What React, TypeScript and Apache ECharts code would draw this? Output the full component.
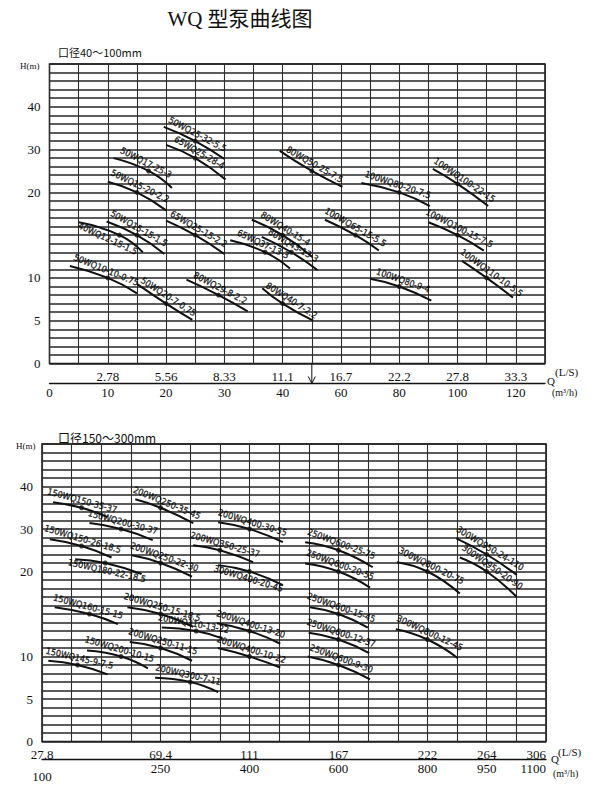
import React, { useEffect, useRef } from 'react';
import * as echarts from 'echarts';

const TITLE = 'WQ 型泵曲线图';
const SUB_TOP = '口径40～100mm';
const SUB_BOTTOM = '口径150～300mm';

// head ticks (m), same on both panels
const H_TICKS = [0, 5, 10, 20, 30, 40];

// upper panel flow ticks
const TOP_Q_M3H = [0, 10, 20, 30, 40, 60, 80, 100, 120];
const TOP_Q_LS = ['', '2.78', '5.56', '8.33', '11.1', '16.7', '22.2', '27.8', '33.3'];
const TOP_MARK_Q = 50; // scale change marker

// lower panel flow ticks and their grid columns
const BOT_Q_M3H = [100, 250, 400, 600, 800, 950, 1100];
const BOT_Q_LS = ['27.8', '69.4', '111', '167', '222', '264', '306'];
const BOT_Q_COLS = [0, 4, 7, 10, 13, 15, 17];

// pump models 40~100mm: [Q m3/h, H m] at the start and end of each curve
const TOP_MODELS = [
  '50WQ25-32-5.5', '65WQ25-28-4', '50WQ17-25-3', '50WQ15-20-2.2', '80WQ50-25-7.5',
  '100WQ80-20-7.5', '100WQ100-22-15', '50WQ15-15-1.5', '40WQ12-15-1.5', '65WQ25-15-2.2',
  '80WQ40-15-4', '80WQ43-13-3', '65WQ37-13-3', '100WQ65-15-5.5', '100WQ100-15-7.5',
  '100WQ110-10-5.5', '100WQ80-9-4', '50WQ10-10-0.75', '50WQ20-7-0.75', '80WQ29-8-2.2',
  '80WQ40-7-2.2',
];
const TOP_START = [
  [19.6, 35.3], [20, 31.1], [11, 28], [10, 22.5], [39.5, 29.7],
  [67, 22.2], [91.5, 25.5], [9.8, 16.6], [5, 16.5], [20, 16.7],
  [34.7, 16.8], [36.4, 14.8], [31, 14.4], [54.5, 16.8], [90, 16.5],
  [101.5, 12], [70, 9.9], [3.5, 11.4], [15, 9.3], [23.5, 9.8],
  [36.5, 8.8],
];
const TOP_END = [
  [30, 27.8], [30.2, 23], [21, 21], [20, 17.9], [60.5, 21.3],
  [90.5, 18.4], [110.5, 18.4], [19.7, 12.8], [16, 13], [30, 12.8],
  [50, 12.5], [52, 10.9], [42.5, 11.1], [73, 13.2], [109, 13.2],
  [119, 7.7], [91, 7.35], [15, 8.2], [24.5, 5.1], [34, 6.1],
  [50.5, 5],
];
const TOP_BELOW = ['40WQ12-15-1.5'];

// pump models 150~300mm
const BOT_MODELS = [
  '150WQ150-35-37', '200WQ250-35-45', '200WQ400-30-55', '150WQ200-30-37', '150WQ150-26-18.5',
  '200WQ350-25-37', '200WQ250-22-30', '150WQ180-22-18.5', '300WQ400-20-45', '250WQ600-25-75',
  '250WQ600-20-55', '300WQ800-20-75', '300WQ950-24-110', '300WQ950-20-90', '150WQ160-15-15',
  '200WQ250-15-18.5', '200WQ310-13-22', '200WQ400-13-20', '200WQ250-11-15', '200WQ400-10-22',
  '150WQ200-10-15', '150WQ145-9-7.5', '200WQ300-7-11', '250WQ600-15-45', '250WQ600-12-37',
  '250WQ600-9-30', '300WQ800-12-45',
];
const BOT_START = [
  [114, 36.3], [218, 37], [347, 31.6], [160, 31.4], [110, 27.6],
  [305, 26.2], [214, 23.8], [142, 22.9], [347, 21.5], [525, 26.9],
  [525, 21.9], [731, 22.2], [873, 27.8], [882, 23.3], [116, 15.8],
  [208, 15.8], [252, 13.4], [345, 13.9], [211, 11.7], [347, 11],
  [157, 10.7], [108, 9.5], [243, 7.5], [536, 15.8], [533, 12.8],
  [531, 10], [729, 13.2],
];
const BOT_END = [
  [183, 32.8], [305, 31.4], [475, 26.9], [240, 27.4], [188, 23.3],
  [408, 22.2], [303, 19.4], [226, 19.7], [475, 18.4], [677, 21],
  [671, 18.1], [882, 17.4], [1026, 19.6], [1026, 17], [196, 13.8],
  [305, 13.5], [355, 12.1], [469, 11.5], [303, 9.5], [469, 8.7],
  [234, 8.6], [183, 7.9], [347, 5.8], [666, 13.4], [669, 10.4],
  [671, 7.3], [877, 9.8],
];
const BOT_BELOW = ['150WQ180-22-18.5', '300WQ400-20-45'];

// ---- scales ----
// head axis: 1 m per line up to 20 m, 2 m per line above
const headY = (h: number) => (h <= 20 ? h : 20 + (h - 20) / 2);
// upper flow axis: 1 m3/h per unit up to 40, 2 m3/h per unit above
const topX = (q: number) => (q <= 40 ? q : 40 + (q - 40) / 2);
// lower flow axis: piecewise through the labelled columns
const botX = (q: number) => {
  for (let i = 1; i < BOT_Q_M3H.length; i++) {
    if (q <= BOT_Q_M3H[i] || i === BOT_Q_M3H.length - 1) {
      const q0 = BOT_Q_M3H[i - 1], q1 = BOT_Q_M3H[i];
      const c0 = BOT_Q_COLS[i - 1], c1 = BOT_Q_COLS[i];
      return c0 + ((q - q0) / (q1 - q0)) * (c1 - c0);
    }
  }
  return 0;
};

const rated = (m: string) => {
  const r = /WQ(\d+)-(\d+)/.exec(m) as RegExpExecArray;
  return [Number(r[1]), Number(r[2])];
};

const G_TOP = { left: 49.5, top: 64, width: 495.5, height: 299.5 };
const G_BOT = { left: 42, top: 444, width: 504, height: 297.5 };
const TOP_XMAX = 85;
const BOT_XMAX = 17;
const Y_MAX = 35;
const LABEL_GAP = 7; // px between a curve and the centre line of its name

const LABEL_FONT = "'Liberation Sans Narrow', 'DejaVu Sans Condensed', sans-serif";
const NUM_FONT = "'Liberation Serif', 'DejaVu Serif', serif";
const INK = '#111';

function panelSeries(
  models: string[], starts: number[][], ends: number[][], below: string[],
  fx: (q: number) => number, axis: number, sx: number, sy: number,
) {
  const series: any[] = [];
  const pts = models.map((m, i) => {
    const [rq, rh] = rated(m);
    return [
      [fx(starts[i][0]), headY(starts[i][1])],
      [fx(rq), headY(rh)],
      [fx(ends[i][0]), headY(ends[i][1])],
    ];
  });
  pts.forEach((p) => {
    series.push({
      type: 'line', xAxisIndex: axis * 2, yAxisIndex: axis, data: p, smooth: true,
      showSymbol: false, silent: true,
      lineStyle: { color: INK, width: 2 },
    });
  });
  series.push({
    type: 'scatter', xAxisIndex: axis * 2, yAxisIndex: axis, silent: true,
    symbolSize: 5, itemStyle: { color: INK },
    data: pts.map((p) => p[1]),
  });
  series.push({
    type: 'scatter', xAxisIndex: axis * 2, yAxisIndex: axis, silent: true,
    symbolSize: 1, itemStyle: { color: 'rgba(0,0,0,0)' },
    label: {
      show: true, formatter: '{b}', color: '#000', fontSize: 9, fontFamily: LABEL_FONT,
      textBorderColor: '#000', textBorderWidth: 0.35,
      position: 'inside', align: 'center', verticalAlign: 'middle',
    },
    labelLayout: { hideOverlap: false },
    data: pts.map((p, i) => {
      const mx = (p[0][0] + p[2][0]) / 2;
      const seg = mx <= p[1][0] ? [p[0], p[1]] : [p[1], p[2]];
      const f = (mx - seg[0][0]) / (seg[1][0] - seg[0][0] || 1);
      const my = seg[0][1] + f * (seg[1][1] - seg[0][1]);
      // chord direction in screen pixels (y down)
      const dx = (p[2][0] - p[0][0]) * sx;
      const dy = -(p[2][1] - p[0][1]) * sy;
      const len = Math.hypot(dx, dy) || 1;
      const ux = dx / len, uy = dy / len;
      const side = below.includes(models[i]) ? -1 : 1;
      const ox = (side * LABEL_GAP * uy) / sx;
      const oy = (side * LABEL_GAP * ux) / sy;
      const ang = (Math.atan2(-dy, dx) * 180) / Math.PI;
      return {
        name: models[i], value: [mx + ox, my + oy],
        label: { rotate: ang },
      };
    }),
  });
  return series;
}

function buildOption() {
  const yAxis = (gi: number, margin: number) => ({
    type: 'value', gridIndex: gi, min: 0, max: Y_MAX, interval: 1,
    axisLine: { show: false }, axisTick: { show: false },
    splitLine: { show: true, lineStyle: { color: '#262626', width: 1.6 } },
    axisLabel: {
      margin, color: INK, fontSize: 13, fontFamily: NUM_FONT,
      formatter: (v: number) => {
        const i = H_TICKS.findIndex((h) => Math.abs(headY(h) - v) < 1e-6);
        return i >= 0 ? String(H_TICKS[i]) : '';
      },
    },
  });
  const topLabel = (arr: string[]) => (v: number) => {
    const i = TOP_Q_M3H.findIndex((q) => Math.abs(topX(q) - v) < 1e-6);
    return i >= 0 ? arr[i] : '';
  };
  const botLabel = (arr: string[], lowFirst: boolean) => (v: number) => {
    const i = BOT_Q_COLS.findIndex((c) => Math.abs(c - v) < 1e-6);
    if (i < 0) return '';
    return lowFirst && i === 0 ? '{lo|' + arr[i] + '}' : arr[i];
  };
  const numStyle = { color: INK, fontSize: 13, fontFamily: NUM_FONT };

  const sxTop = G_TOP.width / TOP_XMAX, syTop = G_TOP.height / Y_MAX;
  const sxBot = G_BOT.width / BOT_XMAX, syBot = G_BOT.height / Y_MAX;

  return {
    animation: false,
    backgroundColor: '#fff',
    grid: [
      { ...G_TOP, show: true, borderColor: '#111', borderWidth: 1.5, backgroundColor: 'transparent' },
      { ...G_BOT, show: true, borderColor: '#111', borderWidth: 1.5, backgroundColor: 'transparent' },
    ],
    xAxis: [
      {
        type: 'value', gridIndex: 0, min: 0, max: TOP_XMAX, interval: 5, position: 'bottom',
        axisLine: { show: false }, axisTick: { show: false },
        splitLine: { show: true, lineStyle: { color: '#2e2e2e', width: 1.1 } },
        axisLabel: { ...numStyle, margin: 6, showMinLabel: true, formatter: topLabel(TOP_Q_LS) },
      },
      {
        type: 'value', gridIndex: 0, min: 0, max: TOP_XMAX, interval: 5, position: 'bottom', offset: 20,
        axisLine: { show: true, onZero: false, lineStyle: { color: '#111', width: 1.3 } },
        axisTick: { show: false }, splitLine: { show: false },
        axisLabel: { ...numStyle, margin: 2, showMinLabel: true, formatter: topLabel(TOP_Q_M3H.map(String)) },
      },
      {
        type: 'value', gridIndex: 1, min: 0, max: BOT_XMAX, interval: 1, position: 'bottom',
        axisLine: { show: false }, axisTick: { show: false },
        splitLine: { show: true, lineStyle: { color: '#2e2e2e', width: 1.1 } },
        axisLabel: {
          ...numStyle, margin: 6, showMinLabel: true, showMaxLabel: true,
          alignMaxLabel: 'right', formatter: botLabel(BOT_Q_LS, false),
        },
      },
      {
        type: 'value', gridIndex: 1, min: 0, max: BOT_XMAX, interval: 1, position: 'bottom', offset: 18,
        axisLine: { show: true, onZero: false, lineStyle: { color: '#111', width: 1.3 } },
        axisTick: { show: false }, splitLine: { show: false },
        axisLabel: {
          ...numStyle, margin: 2, showMinLabel: true, showMaxLabel: true,
          alignMaxLabel: 'right', formatter: botLabel(BOT_Q_M3H.map(String), true),
          rich: { lo: { ...numStyle, padding: [8, 0, 0, 0] } },
        },
      },
    ],
    yAxis: [yAxis(0, 9), yAxis(1, 9)],
    series: [
      ...panelSeries(TOP_MODELS, TOP_START, TOP_END, TOP_BELOW, topX, 0, sxTop, syTop),
      ...panelSeries(BOT_MODELS, BOT_START, BOT_END, BOT_BELOW, botX, 1, sxBot, syBot),
    ],
    graphic: {
      elements: [
        {
          id: 'title', type: 'text', x: 240, y: 19,
          style: {
            text: TITLE, align: 'center', verticalAlign: 'middle', fill: INK,
            fontSize: 21, fontFamily: "'Liberation Serif', 'Noto Sans CJK SC', serif",
          },
        },
        {
          id: 'subTop', type: 'text', x: 58, y: 52,
          style: { text: SUB_TOP, verticalAlign: 'middle', fill: INK, fontSize: 11, fontFamily: "'Noto Sans CJK SC', sans-serif" },
        },
        {
          id: 'subBot', type: 'text', x: 58, y: 437,
          style: { text: SUB_BOTTOM, verticalAlign: 'middle', fill: INK, fontSize: 12, fontFamily: "'Noto Sans CJK SC', sans-serif" },
        },
        {
          id: 'hTop', type: 'text', x: 20, y: 66,
          style: { text: 'H(m)', verticalAlign: 'middle', fill: INK, fontSize: 9, fontFamily: NUM_FONT },
        },
        {
          id: 'hBot', type: 'text', x: 16, y: 446,
          style: { text: 'H(m)', verticalAlign: 'middle', fill: INK, fontSize: 9, fontFamily: NUM_FONT },
        },
        { id: 'qTop', type: 'text', x: 547, y: 381, style: { text: 'Q', verticalAlign: 'middle', fill: INK, fontSize: 11, fontFamily: NUM_FONT } },
        { id: 'lsTop', type: 'text', x: 555, y: 372, style: { text: '(L/S)', verticalAlign: 'middle', fill: INK, fontSize: 11, fontFamily: NUM_FONT } },
        { id: 'mhTop', type: 'text', x: 552, y: 392, style: { text: '(m³/h)', verticalAlign: 'middle', fill: INK, fontSize: 10, fontFamily: NUM_FONT } },
        { id: 'qBot', type: 'text', x: 551, y: 759, style: { text: 'Q', verticalAlign: 'middle', fill: INK, fontSize: 11, fontFamily: NUM_FONT } },
        { id: 'lsBot', type: 'text', x: 558, y: 752, style: { text: '(L/S)', verticalAlign: 'middle', fill: INK, fontSize: 11, fontFamily: NUM_FONT } },
        { id: 'mhBot', type: 'text', x: 553, y: 773, style: { text: '(m³/h)', verticalAlign: 'middle', fill: INK, fontSize: 10, fontFamily: NUM_FONT } },
      ],
    },
  };
}

export default function App() {
  const ref = useRef<HTMLDivElement>(null);
  useEffect(() => {
    document.body.style.margin = '0';
    const chart = echarts.init(ref.current as HTMLDivElement, undefined, { renderer: 'svg' });
    chart.setOption(buildOption() as any);
    // downward marker under the upper flow axis where its scale changes
    const p = chart.convertToPixel({ xAxisIndex: 0, yAxisIndex: 0 }, [topX(TOP_MARK_Q), 0]) as number[];
    if (p) {
      const [mx, my] = p;
      chart.setOption({
        graphic: {
          elements: [
            { id: 'markLine', type: 'line', shape: { x1: mx, y1: my, x2: mx, y2: my + 20 }, style: { stroke: INK, lineWidth: 1 } },
            {
              id: 'markHead', type: 'polyline',
              shape: { points: [[mx - 3.5, my + 13], [mx, my + 20], [mx + 3.5, my + 13]] },
              style: { stroke: INK, lineWidth: 1, fill: 'none' },
            },
          ],
        },
      });
    }
    return () => chart.dispose();
  }, []);
  return (
    <div
      ref={ref}
      style={{ position: 'fixed', left: 0, top: 0, width: 595, height: 788, background: '#fff' }}
    />
  );
}
